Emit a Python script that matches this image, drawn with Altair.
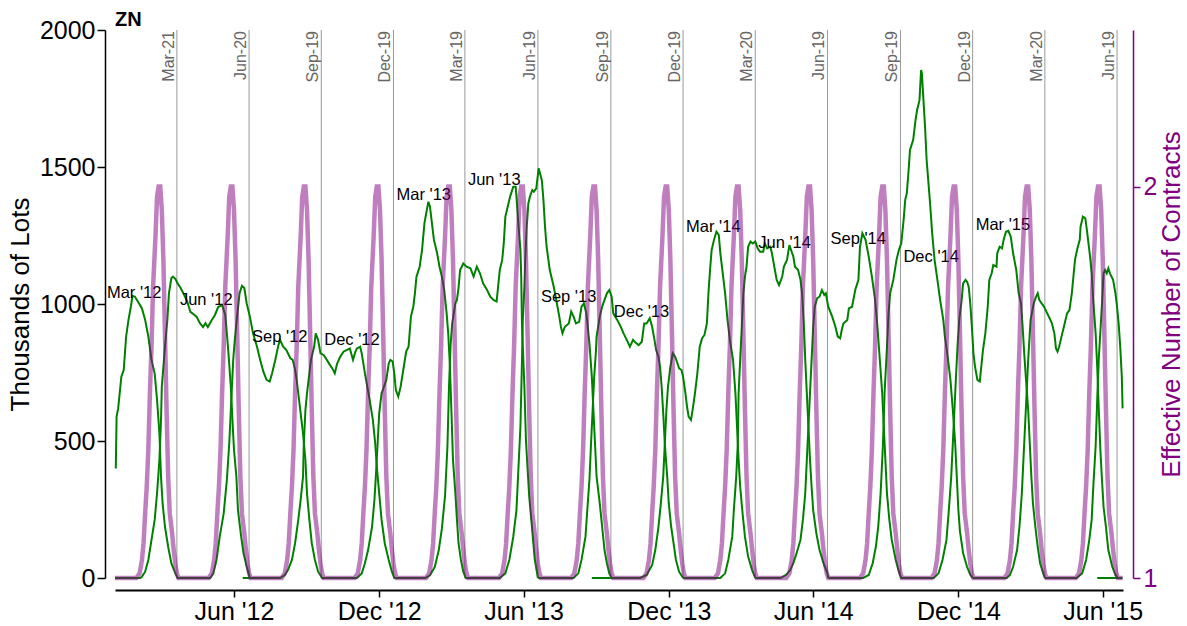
import altair as alt
import pandas as pd

# ---------------- data ----------------
TITLE_TEXT = "ZN"
BASE_DATE = "2012-01-03"          # day 0 of the day-offset arrays below
X_START = (2012, 1, 3, 0)
X_END = (2015, 6, 26, 12)

# open interest (thousands of lots) per contract: day offsets + values
MAR12_DAYS = [1, 2, 4, 8, 11, 14, 17, 20, 22, 25, 29, 34, 38, 42, 46, 50, 53, 56, 58, 60, 63, 67, 71, 76, 79]
MAR12_OI = [400, 589, 619, 735, 759, 881, 942, 990, 1029, 1027, 1008, 984, 942, 881, 796, 747, 650, 528, 370, 272, 187, 114, 54, 17, 0]

JUN12_DAYS = [0, 32, 34, 38, 42, 46, 50, 53, 56, 58, 59, 61, 63, 66, 68, 71, 73, 76, 79, 82, 86, 91, 95, 98, 103, 107, 111, 114, 117, 122, 126, 130, 135, 139, 141, 143, 146, 148, 150, 153, 155, 159, 162, 166, 170]
JUN12_OI = [0, 0, 5, 23, 66, 139, 212, 309, 431, 577, 698, 771, 844, 942, 1039, 1094, 1100, 1092, 1075, 1062, 1040, 1010, 971, 965, 953, 930, 916, 930, 916, 942, 960, 989, 996, 960, 893, 820, 698, 577, 467, 370, 248, 151, 90, 41, 0]

SEP12_DAYS = [78, 120, 124, 128, 132, 137, 141, 144, 147, 149, 151, 153, 157, 160, 163, 166, 170, 174, 179, 183, 187, 191, 195, 198, 202, 206, 208, 212, 216, 221, 224, 227, 229, 231, 234, 237, 240, 242, 245, 248, 252, 256, 261]
SEP12_OI = [0, 0, 17, 66, 151, 236, 358, 491, 674, 796, 869, 929, 1039, 1066, 1058, 1002, 954, 893, 844, 796, 753, 723, 717, 747, 796, 850, 869, 844, 832, 802, 796, 759, 723, 674, 601, 528, 431, 309, 212, 127, 66, 23, 0]

DEC12_DAYS = [161, 208, 214, 218, 223, 227, 231, 234, 237, 238, 240, 242, 244, 247, 249, 251, 253, 256, 259, 263, 267, 271, 274, 277, 280, 284, 288, 292, 296, 300, 303, 305, 309, 311, 313, 315, 318, 321, 325, 328, 330, 333, 336, 340, 345, 349, 352]
DEC12_OI = [0, 0, 11, 29, 66, 127, 212, 285, 370, 491, 613, 674, 723, 796, 820, 844, 893, 869, 820, 814, 796, 777, 765, 747, 783, 808, 826, 832, 838, 796, 826, 838, 844, 820, 783, 747, 698, 650, 577, 491, 406, 309, 212, 127, 66, 23, 0]

MAR13_DAYS = [260, 305, 311, 315, 319, 324, 327, 329, 331, 333, 336, 339, 342, 345, 347, 350, 352, 354, 357, 360, 364, 367, 370, 373, 376, 378, 380, 384, 387, 390, 393, 395, 397, 399, 402, 406, 409, 412, 415, 418, 420, 422, 424, 426, 429, 431, 433, 436, 439, 442]
MAR13_OI = [0, 0, 17, 54, 102, 187, 285, 382, 491, 601, 674, 698, 723, 783, 796, 790, 747, 686, 662, 698, 771, 826, 844, 954, 990, 1039, 1100, 1136, 1197, 1294, 1343, 1373, 1355, 1306, 1234, 1185, 1136, 1100, 1051, 966, 893, 780, 613, 431, 309, 212, 127, 66, 23, 0]

JUN13_DAYS = [351, 391, 397, 403, 408, 412, 416, 419, 421, 423, 425, 429, 431, 433, 435, 439, 443, 448, 452, 456, 460, 464, 469, 473, 477, 481, 485, 488, 490, 492, 494, 498, 502, 505, 506, 508, 511, 512, 513, 516, 518, 522, 526, 529, 533]
JUN13_OI = [0, 0, 10, 40, 100, 180, 300, 480, 700, 850, 930, 1002, 1015, 1060, 1124, 1148, 1136, 1130, 1100, 1136, 1112, 1075, 1051, 1027, 1015, 1009, 1124, 1160, 1221, 1319, 1343, 1392, 1428, 1428, 1392, 1306, 1200, 1100, 920, 700, 500, 300, 170, 70, 0]

SEP13_DAYS = [441, 485, 492, 497, 502, 506, 508, 511, 513, 514, 516, 517, 519, 521, 523, 526, 528, 531, 534, 538, 540, 542, 544, 548, 553, 557, 560, 562, 564, 567, 572, 575, 578, 581, 585, 588, 591, 594, 595, 598, 601, 603, 605, 607, 611, 614, 617, 620, 623, 626]
SEP13_OI = [0, 0, 17, 66, 151, 248, 370, 552, 796, 942, 1063, 1160, 1282, 1367, 1392, 1416, 1410, 1422, 1495, 1452, 1380, 1282, 1209, 1124, 1063, 1002, 954, 917, 893, 917, 929, 972, 954, 929, 935, 990, 1002, 966, 942, 856, 735, 613, 491, 370, 272, 187, 102, 54, 17, 0]

DEC13_DAYS = [533, 578, 584, 588, 593, 595, 598, 600, 602, 604, 606, 607, 611, 614, 617, 620, 623, 626, 628, 633, 637, 641, 645, 649, 653, 656, 660, 664, 667, 670, 674, 677, 680, 682, 685, 687, 689, 691, 693, 696, 698, 701, 704, 707, 711, 716]
DEC13_OI = [0, 0, 17, 66, 151, 236, 358, 491, 613, 735, 820, 881, 954, 990, 1015, 1039, 1051, 1027, 966, 942, 920, 893, 869, 844, 869, 859, 850, 862, 929, 929, 948, 917, 869, 832, 808, 771, 698, 601, 491, 370, 272, 187, 127, 66, 23, 0]

MAR14_DAYS = [601, 662, 670, 677, 681, 685, 688, 691, 693, 695, 697, 700, 703, 706, 709, 711, 714, 716, 719, 721, 723, 726, 728, 731, 734, 737, 740, 743, 746, 748, 750, 752, 755, 758, 761, 763, 766, 769, 772, 775, 779, 782, 784, 786, 788, 791, 794, 798, 803, 807]
MAR14_OI = [0, 0, 11, 47, 102, 187, 272, 370, 491, 613, 698, 771, 820, 808, 783, 765, 759, 735, 674, 625, 589, 577, 613, 674, 747, 844, 875, 887, 929, 1039, 1124, 1197, 1234, 1264, 1252, 1185, 1112, 1039, 942, 869, 796, 674, 552, 431, 333, 236, 151, 78, 29, 0]

JUN14_DAYS = [716, 763, 769, 773, 778, 780, 783, 785, 786, 788, 790, 792, 794, 796, 798, 801, 804, 807, 810, 813, 817, 819, 822, 826, 828, 831, 834, 837, 841, 843, 847, 850, 855, 857, 861, 864, 866, 868, 870, 872, 874, 876, 878, 880, 884, 888, 893, 898, 899]
JUN14_OI = [0, 0, 17, 66, 151, 248, 370, 491, 674, 796, 917, 1039, 1100, 1136, 1209, 1228, 1221, 1228, 1203, 1191, 1191, 1221, 1203, 1209, 1185, 1136, 1088, 1069, 1100, 1136, 1161, 1215, 1173, 1136, 1124, 1088, 1039, 942, 796, 674, 552, 431, 333, 248, 163, 102, 54, 17, 0]

SEP14_DAYS = [807, 839, 846, 851, 855, 859, 864, 867, 870, 872, 874, 876, 878, 880, 882, 885, 888, 891, 894, 896, 899, 904, 908, 911, 914, 916, 918, 923, 925, 929, 933, 937, 939, 942, 946, 950, 954, 958, 961, 964, 967, 969, 971, 973, 976, 979, 984, 988, 991]
SEP14_OI = [0, 0, 12, 29, 54, 90, 139, 212, 309, 431, 552, 674, 796, 917, 990, 1021, 1027, 1051, 1033, 1039, 990, 954, 917, 881, 875, 905, 929, 942, 984, 990, 1051, 1088, 1209, 1258, 1234, 1173, 1100, 1015, 917, 796, 674, 552, 431, 309, 212, 139, 66, 23, 0]

DEC14_DAYS = [899, 943, 950, 955, 959, 962, 965, 968, 970, 973, 975, 977, 981, 985, 988, 991, 994, 996, 998, 1000, 1002, 1006, 1009, 1011, 1014, 1016, 1017, 1019, 1021, 1023, 1027, 1030, 1033, 1036, 1040, 1044, 1046, 1049, 1053, 1056, 1059, 1061, 1063, 1065, 1069, 1074, 1078, 1081]
DEC14_OI = [0, 0, 11, 54, 114, 187, 309, 491, 674, 844, 966, 1039, 1088, 1161, 1197, 1221, 1307, 1380, 1404, 1477, 1562, 1598, 1671, 1708, 1744, 1854, 1842, 1744, 1647, 1525, 1380, 1258, 1161, 1100, 1015, 942, 881, 820, 723, 613, 491, 370, 248, 170, 90, 40, 12, 0]

MAR15_DAYS = [990, 1032, 1038, 1043, 1048, 1051, 1054, 1056, 1058, 1060, 1062, 1064, 1067, 1069, 1072, 1074, 1076, 1078, 1080, 1082, 1084, 1087, 1090, 1091, 1094, 1097, 1100, 1102, 1105, 1107, 1111, 1112, 1115, 1118, 1120, 1123, 1126, 1129, 1132, 1136, 1139, 1142, 1144, 1146, 1148, 1151, 1153, 1155, 1157, 1160, 1163, 1166, 1170, 1172]
MAR15_OI = [0, 0, 17, 66, 139, 248, 370, 491, 613, 735, 850, 940, 1010, 1075, 1088, 1081, 1063, 1002, 917, 820, 771, 723, 717, 747, 832, 893, 990, 1088, 1112, 1142, 1136, 1185, 1209, 1203, 1234, 1264, 1267, 1246, 1185, 1124, 1039, 1002, 917, 820, 735, 613, 491, 370, 272, 187, 114, 54, 17, 0]

JUN15_DAYS = [1081, 1124, 1128, 1132, 1137, 1140, 1143, 1145, 1147, 1149, 1151, 1154, 1158, 1161, 1163, 1165, 1168, 1171, 1175, 1178, 1181, 1184, 1186, 1188, 1190, 1193, 1196, 1200, 1203, 1206, 1210, 1213, 1216, 1217, 1220, 1223, 1225, 1227, 1229, 1231, 1233, 1236, 1238, 1240, 1242, 1244, 1246, 1249, 1252, 1257, 1261, 1264]
JUN15_OI = [0, 0, 11, 41, 102, 187, 309, 431, 552, 674, 796, 942, 1002, 1027, 1039, 1015, 1002, 990, 966, 948, 929, 893, 838, 826, 844, 881, 917, 966, 978, 1039, 1161, 1203, 1234, 1282, 1319, 1313, 1270, 1221, 1173, 1112, 1015, 893, 771, 613, 467, 358, 260, 187, 102, 41, 11, 0]

SEP15_DAYS = [1172, 1212, 1219, 1224, 1228, 1231, 1233, 1236, 1238, 1240, 1242, 1244, 1246, 1248, 1250, 1252, 1254, 1258, 1261, 1263, 1265, 1267, 1269, 1270]
SEP15_OI = [0, 0, 17, 66, 139, 212, 330, 480, 650, 800, 900, 1002, 1112, 1124, 1112, 1130, 1112, 1088, 1039, 990, 929, 844, 735, 619]

DEC15_DAYS = [1238, 1270]
DEC15_OI = [0, 0]

# expiry (roll) dates and their labels
ROLL_DATES = ["2012-03-21", "2012-06-20", "2012-09-19", "2012-12-19", "2013-03-19", "2013-06-19",
              "2013-09-19", "2013-12-19", "2014-03-20", "2014-06-19", "2014-09-19", "2014-12-19",
              "2015-03-20", "2015-06-19"]
ROLL_TEXT = ["Mar-21", "Jun-20", "Sep-19", "Dec-19", "Mar-19", "Jun-19", "Sep-19", "Dec-19",
             "Mar-20", "Jun-19", "Sep-19", "Dec-19", "Mar-20", "Jun-19"]

# contract name labels: placed just after the previous expiry
LABEL_TEXT = ["Mar '12", "Jun '12", "Sep '12", "Dec '12", "Mar '13", "Jun '13", "Sep '13",
              "Dec '13", "Mar '14", "Jun '14", "Sep '14", "Dec '14", "Mar '15"]
LABEL_DATES = ["2011-12-20", "2012-03-21", "2012-06-20", "2012-09-19", "2012-12-19", "2013-03-19",
               "2013-06-19", "2013-09-19", "2013-12-19", "2014-03-20", "2014-06-19", "2014-09-19",
               "2014-12-19"]
LABEL_VALUES = [1040, 1015, 880, 869, 1398, 1453, 1026, 971, 1281, 1223, 1237, 1172, 1288]

# effective number of contracts: peak days and the shape of a peak
ENC_PEAK_DAYS = [56, 147, 239, 331, 421, 513, 604, 695, 785, 875, 968, 1058, 1150, 1240]
ENC_SHAPE_DAYS = [-29, -25, -22, -20, -18, -16, -14, -12, -10, -8, -5, -3, -1, 1, 3, 5, 7, 9, 11, 13, 16, 18, 20, 22, 24]
ENC_SHAPE_VALUES = [1.0, 1.012, 1.046, 1.089, 1.165, 1.233, 1.327, 1.472, 1.591, 1.744, 1.872, 1.974, 2.0,
                    2.0, 1.94, 1.812, 1.625, 1.429, 1.259, 1.165, 1.114, 1.072, 1.037, 1.012, 1.0]
ENC_FIRST_DAY = 0
ENC_LAST_DAY = 1270

X_TICKS = [(2012, 6), (2012, 12), (2013, 6), (2013, 12), (2014, 6), (2014, 12), (2015, 6)]

# ---------------- tables ----------------
base = pd.Timestamp(BASE_DATE)
SERIES = [
    ("Mar '12", MAR12_DAYS, MAR12_OI), ("Jun '12", JUN12_DAYS, JUN12_OI),
    ("Sep '12", SEP12_DAYS, SEP12_OI), ("Dec '12", DEC12_DAYS, DEC12_OI),
    ("Mar '13", MAR13_DAYS, MAR13_OI), ("Jun '13", JUN13_DAYS, JUN13_OI),
    ("Sep '13", SEP13_DAYS, SEP13_OI), ("Dec '13", DEC13_DAYS, DEC13_OI),
    ("Mar '14", MAR14_DAYS, MAR14_OI), ("Jun '14", JUN14_DAYS, JUN14_OI),
    ("Sep '14", SEP14_DAYS, SEP14_OI), ("Dec '14", DEC14_DAYS, DEC14_OI),
    ("Mar '15", MAR15_DAYS, MAR15_OI), ("Jun '15", JUN15_DAYS, JUN15_OI),
    ("Sep '15", SEP15_DAYS, SEP15_OI), ("Dec '15", DEC15_DAYS, DEC15_OI),
]
rows = []
for name, days, vals in SERIES:
    for i, (d, v) in enumerate(zip(days, vals)):
        rows.append({"contract": name, "date": base + pd.Timedelta(days=d), "oi": v, "idx": i})
green_df = pd.DataFrame(rows)

enc_days = [ENC_FIRST_DAY]
enc_vals = [1.0]
for p in ENC_PEAK_DAYS:
    for off, v in zip(ENC_SHAPE_DAYS, ENC_SHAPE_VALUES):
        enc_days.append(p + off)
        enc_vals.append(v)
enc_days.append(ENC_LAST_DAY)
enc_vals.append(1.0)
enc_df = pd.DataFrame({"date": [base + pd.Timedelta(days=d) for d in enc_days],
                       "enc": enc_vals, "idx": list(range(len(enc_days)))})

roll_df = pd.DataFrame({"date": pd.to_datetime(ROLL_DATES), "label": ROLL_TEXT})
label_df = pd.DataFrame({"date": pd.to_datetime(LABEL_DATES), "oi": LABEL_VALUES, "name": LABEL_TEXT})
title_df = pd.DataFrame({"t": [TITLE_TEXT]})

# ---------------- chart ----------------
FONT = "Liberation Sans"
PURPLE = "#800080"

x_scale = alt.Scale(domain=[alt.DateTime(year=X_START[0], month=X_START[1], date=X_START[2], hours=X_START[3]),
                            alt.DateTime(year=X_END[0], month=X_END[1], date=X_END[2], hours=X_END[3])],
                    nice=False)
x_axis = alt.Axis(values=[alt.DateTime(year=y, month=m, date=1) for y, m in X_TICKS],
                  format="%b '%y", title=None, grid=False, offset=12,
                  labelFontSize=25, labelColor="black", labelPadding=2, labelOverlap=False,
                  labelFlush=False, tickSize=7, tickColor="black", tickWidth=1.5,
                  domainColor="black", domainWidth=2)
x_enc = alt.X("date:T", scale=x_scale, axis=x_axis)

y_scale = alt.Scale(domain=[0, 2000], nice=False, zero=True)
y_axis = alt.Axis(values=[0, 500, 1000, 1500, 2000], format="d", title="Thousands of Lots",
                  titleFontSize=26, titleFontWeight="normal", titleColor="black", titlePadding=6,
                  labelFontSize=25, labelColor="black", labelPadding=2, labelFlush=False,
                  tickSize=8, tickColor="black", tickWidth=1.5, offset=10, grid=False,
                  domainColor="black", domainWidth=1.5)

r_scale = alt.Scale(domain=[1, 2.4], nice=False, zero=False)
r_axis = alt.Axis(orient="right", values=[1, 2], format="d", title="Effective Number of Contracts",
                  titleFontSize=26, titleFontWeight="normal", titleColor=PURPLE, titlePadding=2,
                  titleAngle=270, titleBaseline="top",
                  labelFontSize=25, labelColor=PURPLE, labelPadding=3, labelFlush=False,
                  tickSize=7, tickColor=PURPLE, tickWidth=1.5, offset=10, grid=False,
                  domainColor=PURPLE, domainWidth=1.5)

rules = alt.Chart(roll_df).mark_rule(color="#999999", strokeWidth=1).encode(x=x_enc)
roll_text = alt.Chart(roll_df).mark_text(
    angle=270, align="right", baseline="alphabetic", dx=-1, dy=-3, fontSize=16, color="#666666"
).encode(x=x_enc, y=alt.value(0), text="label:N")
green = alt.Chart(green_df).mark_line(color="#008000", strokeWidth=2).encode(
    x=x_enc, y=alt.Y("oi:Q", scale=y_scale, axis=y_axis),
    detail="contract:N", order=alt.Order("idx:Q"))
labels = alt.Chart(label_df).mark_text(
    align="left", baseline="middle", dx=3, fontSize=16.5, color="black"
).encode(x=x_enc, y=alt.Y("oi:Q", scale=y_scale, axis=y_axis), text="name:N")
title_mark = alt.Chart(title_df).mark_text(
    align="left", baseline="alphabetic", fontSize=20, fontWeight="bold", color="black"
).encode(x=alt.value(0), y=alt.value(-4), text="t:N")
purple = alt.Chart(enc_df).mark_line(color=PURPLE, opacity=0.5, strokeWidth=4.5).encode(
    x=x_enc, y=alt.Y("enc:Q", scale=r_scale, axis=r_axis), order=alt.Order("idx:Q"))

left = alt.layer(rules, roll_text, green, labels, title_mark)
chart = alt.layer(left, purple).resolve_scale(y="independent").properties(
    width=1008, height=548,
    padding={"left": 115, "top": 30, "right": 64, "bottom": 48},
    autosize=alt.AutoSizeParams(type="none"),
).configure(font=FONT).configure_view(stroke=None)

chart.save("out.html", embed_options={"renderer": "svg", "actions": False})
